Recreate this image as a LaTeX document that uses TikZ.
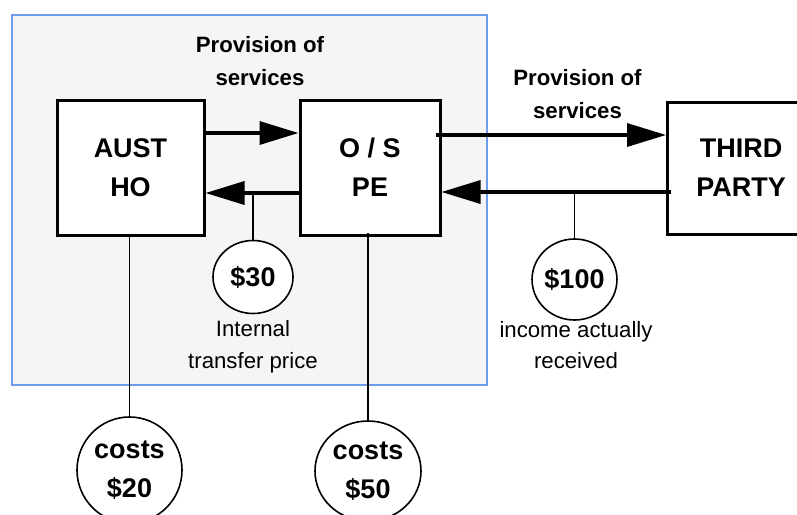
\documentclass[tikz,border=0pt]{standalone}
\usepackage{fontspec}
\setmainfont{Liberation Sans}
\usetikzlibrary{arrows.meta,shapes.geometric}
\definecolor{panelfill}{HTML}{F5F5F5}
\definecolor{panelblue}{HTML}{6D9EEB}
\begin{document}
\begin{tikzpicture}[x=1pt,y=-1pt,
  entity/.style={draw=black, line width=3pt, fill=white, minimum width=147pt,
    minimum height=135pt, inner sep=0pt, align=center,
    font=\fontsize{27}{39}\selectfont\bfseries},
  amount/.style={ellipse, draw=black, line width=1.6pt, fill=white, inner sep=0pt,
    align=center, font=\fontsize{27}{39}\selectfont\bfseries},
  flow/.style={line width=3.4pt, -{Triangle[length=39pt,width=23pt]}},
  tie/.style={line width=1.5pt},
  caption/.style={align=center, font=\fontsize{22.2}{31.5}\selectfont},
  heading/.style={align=center, font=\fontsize{22.2}{33}\selectfont\bfseries},
]
\useasboundingbox (0,0) rectangle (797,514);
\clip (0,0) rectangle (797,514);

% panel
\fill[panelfill] (12,15) rectangle (487,385);
\draw[panelblue, line width=1.5pt] (12,15) rectangle (487,385);

% entities
\node[entity] (aust) at (130.5,167.5) {AUST\\HO};
\node[entity, minimum width=140pt] (ops) at (370,167.5) {O / S\\PE};
\node[entity, minimum height=132pt] (third) at (741,168) {THIRD\\PARTY};

% amounts
\node[amount, minimum width=80pt, minimum height=73pt] (c30) at (253,277) {\$30};
\node[amount, minimum width=83pt, minimum height=81pt] (c100) at (574.5,279.5) {\$100};
\node[amount, minimum width=105pt, minimum height=106pt] (c20) at (129.5,470) {costs\\\$20};
\node[amount, minimum width=106pt, minimum height=100pt] (c50) at (368,471) {costs\\\$50};

% labels
\node[heading] (h1) at (260,61) {Provision of\\services};
\node[heading] (h2) at (577.5,94) {Provision of\\services};
\node[caption] (l1) at (253,347) {Internal\\transfer price};
\node[caption] (l2) at (576,345) {income actually\\received};

% flows
\draw[flow] ([yshift=34.5pt]aust.east) -- ([yshift=34.5pt]ops.west);
\coordinate (retS) at ([xshift=2pt,yshift=-25.5pt]ops.west);
\coordinate (retE) at ([yshift=-25.5pt]aust.east);
\draw[flow] (retS) -- (retE);
\draw[flow] ([xshift=-6pt,yshift=32.5pt]ops.east) -- ([yshift=33pt]third.west);
\coordinate (incS) at ([xshift=5pt,yshift=-24pt]third.west);
\coordinate (incE) at ([yshift=-24.5pt]ops.east);
\draw[flow] (incS) -- (incE);

% ties
\draw[tie] (c30.north) -- (c30.north |- retE);
\draw[tie] (c100.north) -- (c100.north |- incS);
\draw[tie] (c20.north) -- (c20.north |- aust.south);
\draw[tie, shorten >=-4pt] (c50.north) -- (c50.north |- ops.south);
\end{tikzpicture}
\end{document}
